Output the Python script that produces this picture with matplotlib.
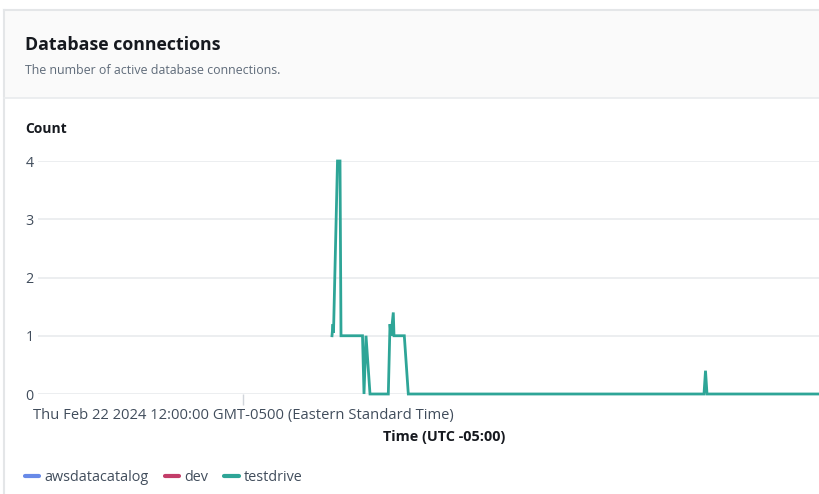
import matplotlib
matplotlib.use("Agg")
import matplotlib.pyplot as plt
from matplotlib.patches import Rectangle
from matplotlib.lines import Line2D

# ---- data (minutes after Thu Feb 22 2024 12:00 EST) ----
minutes = [89, 90, 90.5, 94.5, 97, 98, 119.5, 121, 123, 127, 145.3, 147, 148, 150.3, 151, 161.3, 165.3, 461, 462.5, 464, 576]
testdrive = [1.0, 1.2, 1.05, 4.0, 4.0, 1.0, 1.0, 0.0, 1.0, 0.0, 0.0, 1.2, 1.0, 1.4, 1.0, 1.0, 0.0, 0.0, 0.4, 0.0, 0.0]
series_names = ["awsdatacatalog", "dev", "testdrive"]
series_colors = ["#688ae8", "#c33d69", "#2ea597"]
y_ticks = [0, 1, 2, 3, 4]
x_tick_label = "Thu Feb 22 2024 12:00:00 GMT-0500 (Eastern Standard Time)"
x_min, x_max = -205, 576

plt.rcParams['font.family'] = ['Open Sans', 'DejaVu Sans']

W, H = 819, 494
fig = plt.figure(figsize=(W / 100, H / 100), dpi=100)
fig.patch.set_facecolor("white")

def fx(px):
    return px / W

def fy(py):
    return 1 - py / H

# panel: header background, borders
fig.patches.append(Rectangle((fx(4), fy(98)), 1, fy(11) - fy(98), transform=fig.transFigure,
                             facecolor="#fafafa", edgecolor="none", zorder=0))
fig.add_artist(Line2D([fx(4), 1], [fy(10.5), fy(10.5)], color="#e4e6e8", lw=1.5, transform=fig.transFigure))
fig.add_artist(Line2D([fx(4), fx(4)], [fy(10.5), 0], color="#e4e6e8", lw=1.5, transform=fig.transFigure))
fig.add_artist(Line2D([fx(4), 1], [fy(98.5), fy(98.5)], color="#e9ebed", lw=1.2, transform=fig.transFigure))

dark = "#16191f"
fig.text(fx(25), fy(45), "Database connections", fontsize=12.8, fontweight="bold", color=dark,
         ha="left", va="center")
fig.text(fx(25), fy(70), "The number of active database connections.", fontsize=8.9, color="#5f6b7a",
         ha="left", va="center")
fig.text(fx(25), fy(129), "Count", fontsize=10, fontweight="bold", color=dark, ha="left", va="center")

ax = fig.add_axes([fx(38), fy(394), fx(819) - fx(38), fy(161) - fy(394)])
ax.set_facecolor("none")
ax.set_xlim(x_min, x_max)
ax.set_ylim(0, 4)
for s in ax.spines.values():
    s.set_visible(False)
ax.set_yticks(y_ticks)
ax.set_yticklabels([str(v) for v in y_ticks], fontsize=10.3, color="#414d5c")
ax.tick_params(axis="y", length=0, pad=3)
for v in y_ticks:
    ax.axhline(v, color="#e9ebed", lw=1.2, zorder=1)
ax.set_xticks([0])
ax.set_xticklabels([x_tick_label], fontsize=10.6, color="#414d5c")
ax.tick_params(axis="x", length=8, color="#d1d5db", width=1, pad=2)
fig.text(fx(444), fy(437), "Time (UTC -05:00)", fontsize=10.4, fontweight="bold", color=dark,
         ha="center", va="center")

ax.plot(minutes, testdrive, color=series_colors[2], lw=2, clip_on=False, zorder=3,
        solid_joinstyle="miter")

handles = [Line2D([0], [0], color=c, lw=3, solid_capstyle="round") for c in series_colors]
leg = fig.legend(handles, series_names, loc="center left", bbox_to_anchor=(fx(25), fy(477.5)),
                 ncol=3, frameon=False, fontsize=10.4, handlelength=1.0, handletextpad=0.32,
                 columnspacing=1.15, labelcolor="#414d5c", borderpad=0, borderaxespad=0)

fig.savefig("out.png", dpi=100)
